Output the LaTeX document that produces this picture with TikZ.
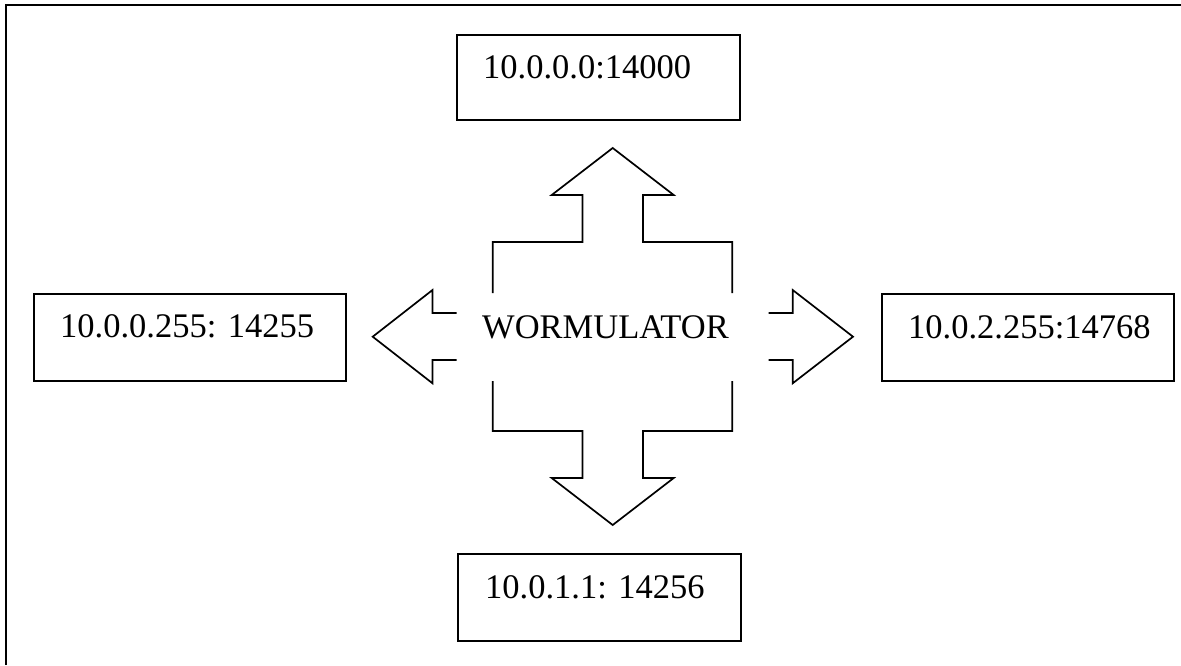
\documentclass[tikz,border=0pt]{standalone}
\usepackage{fontspec}
\setmainfont{Liberation Serif}
\begin{document}
\begin{tikzpicture}[x=1pt,y=-1pt,
  box/.style={draw,line width=1.7pt,rectangle,inner sep=0pt,anchor=north west},
  lbl/.style={anchor=base west,inner sep=0pt,font=\fontsize{34.5}{40}\selectfont},
  blk/.style={line width=1.7pt,line join=miter}]
\useasboundingbox (0,0) rectangle (1181,665);
% frame (top and left edges)
\draw[line width=1.8pt] (6,665) -- (6,5) -- (1181,5);
% boxes
\node[box,minimum width=283pt,minimum height=85pt] (topbox) at (456,34) {};
\node[box,minimum width=312pt,minimum height=87pt] (leftbox) at (33,293) {};
\node[box,minimum width=292pt,minimum height=87pt] (rightbox) at (881,293) {};
\node[box,minimum width=283pt,minimum height=87pt] (botbox) at (457,553) {};
% texts
\node[lbl] (toptxt) at (483,78) {10.0.0.0:14000};
\node[lbl] (lefttxt) at (60,337) {10.0.0.255: 14255};
\node[lbl] (righttxt) at (908,338) {10.0.2.255:14768};
\node[lbl] (bottxt) at (485,598) {10.0.1.1: 14256};
\node[lbl] (center) at (482,338) {WORMULATOR};
% four-way block arrow
\draw[blk] (492.7,293) -- (492.7,242) -- (582.5,242) -- (582.5,195) -- (551.7,195)
  -- (612.7,148) -- (673.7,195) -- (643,195) -- (643,242) -- (732.3,242) -- (732.3,293);
\draw[blk] (492.7,381) -- (492.7,431) -- (582.5,431) -- (582.5,478) -- (551.7,478)
  -- (612.7,525) -- (673.7,478) -- (643,478) -- (643,431) -- (732.3,431) -- (732.3,381);
\draw[blk] (456.7,313) -- (432.5,313) -- (432.5,290) -- (372.7,336.7)
  -- (432.5,383.3) -- (432.5,360) -- (456.7,360);
\draw[blk] (768.5,313) -- (792.7,313) -- (792.7,290) -- (853,336.7)
  -- (792.7,383.3) -- (792.7,360) -- (768.5,360);
\end{tikzpicture}
\end{document}
